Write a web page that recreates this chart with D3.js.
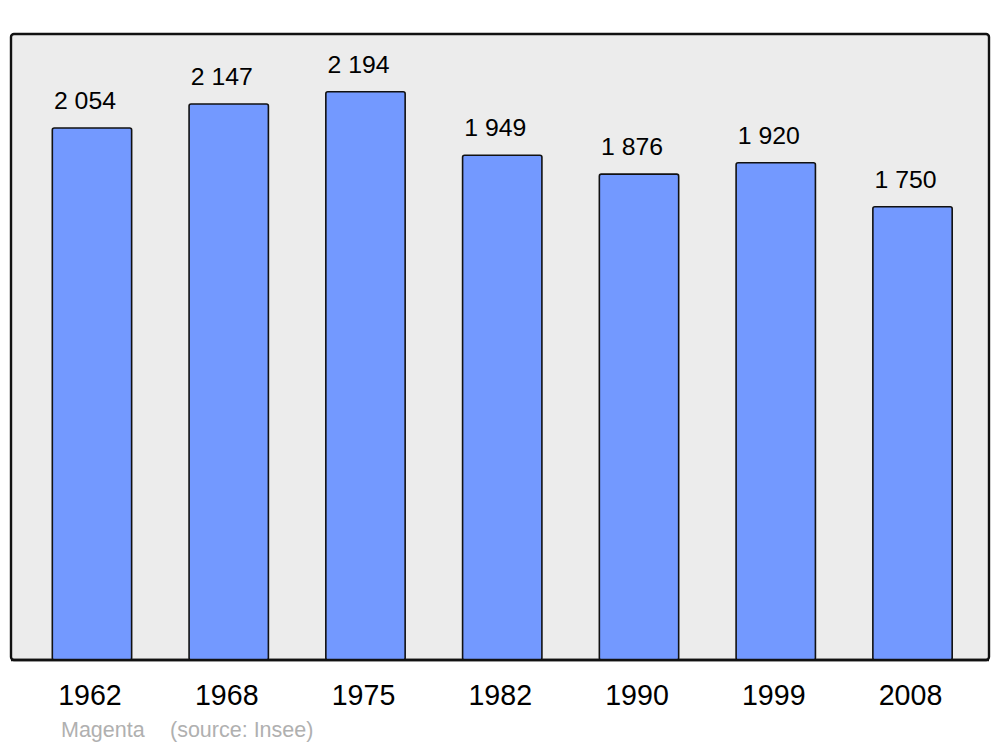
<!DOCTYPE html>
<html><head><meta charset="utf-8">
<script src="https://cdn.jsdelivr.net/npm/d3@7"></script>
<style>body{margin:0;background:#fff}svg{display:block;font-family:"Liberation Sans",Arial,sans-serif}</style>
</head><body><svg id="c" width="1000" height="747"></svg>
<script>
const years = ["1962","1968","1975","1982","1990","1999","2008"];
const population = [2054,2147,2194,1949,1876,1920,1750];
const valueLabels = ["2 054","2 147","2 194","1 949","1 876","1 920","1 750"];
const credits = ["Magenta","(source: Insee)"];

const svg = d3.select("#c");
const x = d3.scaleBand().domain(years).range([23.6, 980.9]).paddingInner(0.42).paddingOuter(0.21);
const y = d3.scaleLinear().domain([0, 2194*1.1]).range([660, 35]);

svg.append("rect").attr("x",11).attr("y",34).attr("width",978).attr("height",626)
  .attr("rx",3).attr("fill","#ececec").attr("stroke","#111").attr("stroke-width",2.4);

const data = years.map((d,i)=>({year:d,v:population[i],lab:valueLabels[i]}));
svg.selectAll("rect.bar").data(data).enter().append("rect").attr("class","bar")
  .attr("x",d=>x(d.year)).attr("width",x.bandwidth())
  .attr("y",d=>y(d.v)).attr("height",d=>y(0)-y(d.v)).attr("rx",2)
  .attr("fill","#7399ff").attr("stroke","#111").attr("stroke-width",1.6);

svg.append("line").attr("x1",11).attr("x2",989).attr("y1",660).attr("y2",660).attr("stroke","#111").attr("stroke-width",2.4);

svg.selectAll("text.val").data(data).enter().append("text").attr("class","val")
  .attr("x",d=>x(d.year)+x.bandwidth()/2-7).attr("y",d=>y(d.v)-19)
  .attr("text-anchor","middle").attr("font-size",24.8).attr("fill","#000").text(d=>d.lab);

const xAxis = d3.axisBottom(x).tickSize(0).tickPadding(0);
const ax = svg.append("g").attr("transform","translate(0,660)").call(xAxis);
ax.select(".domain").remove();
ax.selectAll("text").attr("font-size",28.6).attr("fill","#000").attr("dy",0).attr("y",45)
  .attr("font-family","Liberation Sans, Arial, sans-serif").attr("dx",-2);

svg.append("text").attr("x",61).attr("y",737).attr("font-size",21.5).attr("fill","#b0b0b0").text(credits[0]);
svg.append("text").attr("x",170).attr("y",737).attr("font-size",21.5).attr("fill","#b0b0b0").text(credits[1]);
</script></body></html>
